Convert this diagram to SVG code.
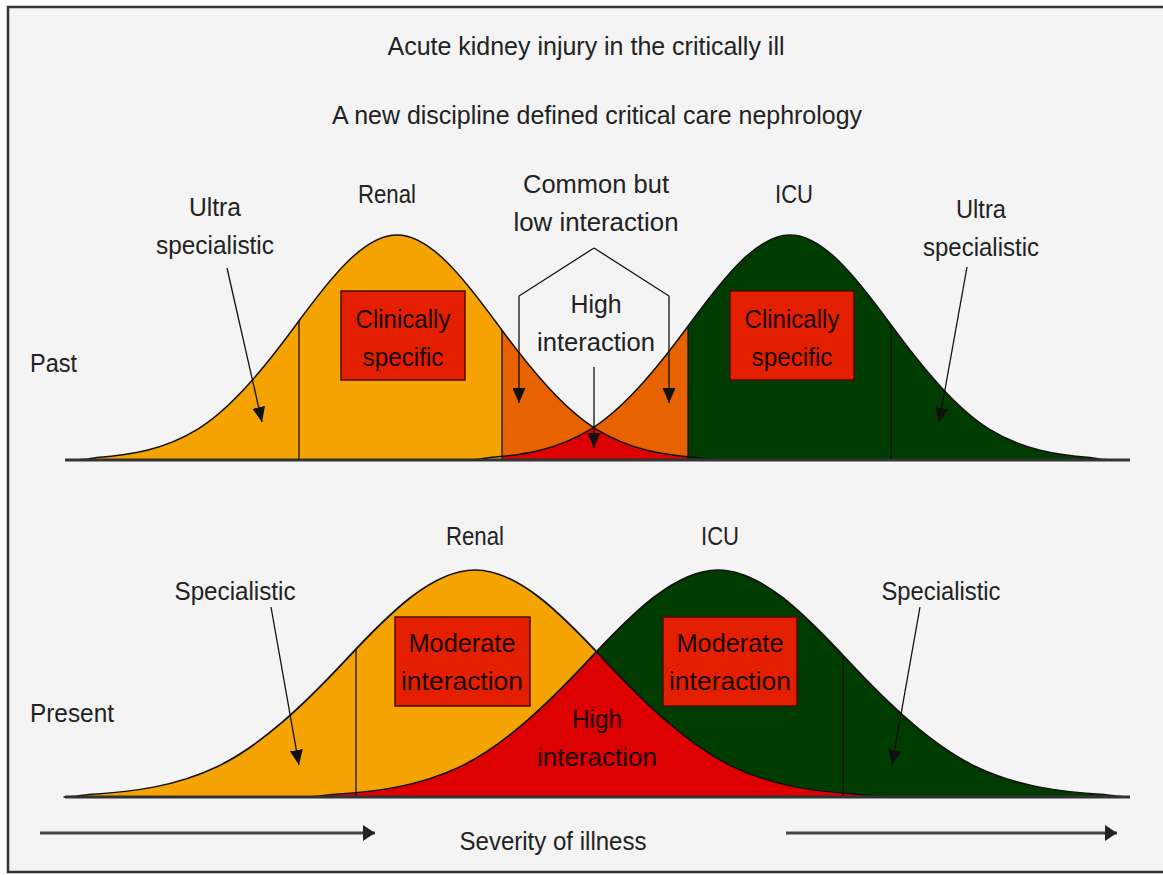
<svg xmlns="http://www.w3.org/2000/svg" width="1163" height="875" viewBox="0 0 1163 875">
<style>
text{font-family:"Liberation Sans",Arial,sans-serif;font-size:26px;fill:#222;text-anchor:middle}
.bx text{fill:#1a0400}
.curve{fill:none;stroke:#111;stroke-width:1.5}
.vl{stroke:#111;stroke-width:1.3}
.base{stroke:#333;stroke-width:3}
.box{fill:#e31f00;stroke:#4a0c00;stroke-width:1.5}
.con{fill:none;stroke:#111;stroke-width:1.3}
.sev{fill:none;stroke:#444;stroke-width:3}
</style>
<defs>
<path id="g" d="M -320,0 C -313,0 -307,-1.6 -300,-2.5 C -266.7,-5 -233.3,-10.1 -200,-30.4 C -166.7,-50.7 -133.3,-91 -100,-136.5 C -66.7,-182 -33.3,-225 0,-225 C 33.3,-225 66.7,-182 100,-136.5 C 133.3,-91 166.7,-50.7 200,-30.4 C 233.3,-10.1 266.7,-5 300,-2.5 C 307,-1.6 313,0 320,0 Z"/>
<clipPath id="cpRP"><use href="#g" transform="translate(397,460)"/></clipPath>
<clipPath id="cpLeftP"><rect x="0" y="0" width="502" height="875"/></clipPath>
<clipPath id="cpMidP"><rect x="502" y="0" width="186" height="875"/></clipPath>
<clipPath id="cpRightP"><rect x="688" y="0" width="500" height="875"/></clipPath>
<clipPath id="cpRN"><use href="#g" transform="translate(475,797) scale(1.286,1.009)"/></clipPath>
<marker id="ah" viewBox="0 0 15 13" refX="15" refY="6.5" markerWidth="15" markerHeight="13" markerUnits="userSpaceOnUse" orient="auto"><path d="M0,0 L15,6.5 L0,13 z" fill="#111"/></marker>
<marker id="ah2" viewBox="0 0 12 16" refX="12" refY="8" markerWidth="12" markerHeight="16" markerUnits="userSpaceOnUse" orient="auto"><path d="M0,0 L12,8 L0,16 z" fill="#222"/></marker>
</defs>
<rect x="0" y="0" width="1163" height="875" fill="#fff"/>
<rect x="8" y="7" width="1170" height="865" fill="#f4f4f4" stroke="#333" stroke-width="2.5"/>

<g id="title">
<text x="586" y="55" textLength="397" lengthAdjust="spacingAndGlyphs">Acute kidney injury in the critically ill</text>
<text x="597" y="124" textLength="530" lengthAdjust="spacingAndGlyphs">A new discipline defined critical care nephrology</text>
</g>

<!-- PAST -->
<g id="past-fills">
<g clip-path="url(#cpLeftP)"><use href="#g" transform="translate(397,460)" fill="#f5a300"/></g>
<g clip-path="url(#cpRightP)"><use href="#g" transform="translate(790,460)" fill="#003c00"/></g>
<g clip-path="url(#cpMidP)"><use href="#g" transform="translate(397,460)" fill="#e86200"/><use href="#g" transform="translate(790,460)" fill="#e86200"/></g>
<g clip-path="url(#cpMidP)"><g clip-path="url(#cpRP)"><use href="#g" transform="translate(790,460)" fill="#dc0000"/></g></g>
</g>
<g id="past-lines">
<line class="vl" x1="299" y1="460" x2="299" y2="321"/>
<line class="vl" x1="502" y1="460" x2="502" y2="330"/>
<line class="vl" x1="688" y1="460" x2="688" y2="326"/>
<line class="vl" x1="891" y1="460" x2="891" y2="325"/>
<use class="curve" href="#g" transform="translate(397,460)"/>
<use class="curve" href="#g" transform="translate(790,460)"/>
<line class="base" x1="65" y1="460" x2="1130" y2="460"/>
</g>

<g id="past-label"><text x="30" y="372" text-anchor="start" style="text-anchor:start" textLength="47" lengthAdjust="spacingAndGlyphs">Past</text></g>
<g id="past-renal-label"><text x="387" y="203" textLength="58" lengthAdjust="spacingAndGlyphs">Renal</text></g>
<g id="past-icu-label"><text x="794" y="203" textLength="38" lengthAdjust="spacingAndGlyphs">ICU</text></g>
<g id="past-ultra-left">
<text x="215" y="216" textLength="52" lengthAdjust="spacingAndGlyphs">Ultra</text>
<text x="215" y="254" textLength="118" lengthAdjust="spacingAndGlyphs">specialistic</text>
</g>
<g id="past-ultra-right">
<text x="981" y="218" textLength="50" lengthAdjust="spacingAndGlyphs">Ultra</text>
<text x="981" y="256" textLength="116" lengthAdjust="spacingAndGlyphs">specialistic</text>
</g>
<g id="past-common">
<text x="596" y="193" textLength="146" lengthAdjust="spacingAndGlyphs">Common but</text>
<text x="596" y="231" textLength="165" lengthAdjust="spacingAndGlyphs">low interaction</text>
</g>
<g id="past-high">
<text x="596" y="313" textLength="51" lengthAdjust="spacingAndGlyphs">High</text>
<text x="596" y="351" textLength="118" lengthAdjust="spacingAndGlyphs">interaction</text>
</g>
<g id="past-renal-box" class="bx">
<rect class="box" x="341" y="291" width="124" height="89"/>
<text x="403" y="328" textLength="95" lengthAdjust="spacingAndGlyphs">Clinically</text>
<text x="403" y="366" textLength="81" lengthAdjust="spacingAndGlyphs">specific</text>
</g>
<g id="past-icu-box" class="bx">
<rect class="box" x="730" y="291" width="124" height="89"/>
<text x="792" y="328" textLength="95" lengthAdjust="spacingAndGlyphs">Clinically</text>
<text x="792" y="366" textLength="81" lengthAdjust="spacingAndGlyphs">specific</text>
</g>

<!-- PRESENT -->
<g id="present-fills">
<use href="#g" transform="translate(475,797) scale(1.286,1.009)" fill="#f5a300"/>
<use href="#g" transform="translate(718,797) scale(1.286,1.009)" fill="#003c00"/>
<g clip-path="url(#cpRN)"><use href="#g" transform="translate(718,797) scale(1.286,1.009)" fill="#dc0000"/></g>
</g>
<g id="present-lines">
<line class="vl" x1="356" y1="797" x2="356" y2="649"/>
<line class="vl" x1="843" y1="797" x2="843" y2="655"/>
<use class="curve" href="#g" transform="translate(475,797) scale(1.286,1.009)" vector-effect="non-scaling-stroke"/>
<use class="curve" href="#g" transform="translate(718,797) scale(1.286,1.009)" vector-effect="non-scaling-stroke"/>
<line class="base" x1="65" y1="797" x2="1130" y2="797"/>
</g>

<g id="present-label"><text x="30" y="722" style="text-anchor:start" textLength="84" lengthAdjust="spacingAndGlyphs">Present</text></g>
<g id="present-renal-label"><text x="475" y="545" textLength="58" lengthAdjust="spacingAndGlyphs">Renal</text></g>
<g id="present-icu-label"><text x="720" y="545" textLength="38" lengthAdjust="spacingAndGlyphs">ICU</text></g>
<g id="present-spec-left"><text x="235" y="600" textLength="121" lengthAdjust="spacingAndGlyphs">Specialistic</text></g>
<g id="present-spec-right"><text x="941" y="600" textLength="119" lengthAdjust="spacingAndGlyphs">Specialistic</text></g>
<g id="present-renal-box" class="bx">
<rect class="box" x="395" y="617" width="135" height="89"/>
<text x="462" y="652" textLength="107" lengthAdjust="spacingAndGlyphs">Moderate</text>
<text x="462" y="690" textLength="122" lengthAdjust="spacingAndGlyphs">interaction</text>
</g>
<g id="present-icu-box" class="bx">
<rect class="box" x="663" y="617" width="134" height="89"/>
<text x="730" y="652" textLength="107" lengthAdjust="spacingAndGlyphs">Moderate</text>
<text x="730" y="690" textLength="122" lengthAdjust="spacingAndGlyphs">interaction</text>
</g>
<g id="present-high" class="bx">
<text x="597" y="728" textLength="50" lengthAdjust="spacingAndGlyphs">High</text>
<text x="597" y="766" textLength="120" lengthAdjust="spacingAndGlyphs">interaction</text>
</g>
<g id="severity"><text x="553" y="850" textLength="187" lengthAdjust="spacingAndGlyphs">Severity of illness</text></g>

<g id="connectors">
<path class="con" d="M227,268 L262,422" marker-end="url(#ah)"/>
<path class="con" d="M967,267 L939,423" marker-end="url(#ah)"/>
<path class="con" d="M594,248 L519,296 L519,403" marker-end="url(#ah)"/>
<path class="con" d="M594,248 L669,296 L669,403" marker-end="url(#ah)"/>
<path class="con" d="M594,367 L594,448" marker-end="url(#ah)"/>
<path class="con" d="M271,607 L299,765" marker-end="url(#ah)"/>
<path class="con" d="M920,607 L892,765" marker-end="url(#ah)"/>
<path class="sev" d="M40,833 L375,833" marker-end="url(#ah2)"/>
<path class="sev" d="M786,833 L1117,833" marker-end="url(#ah2)"/>
</g>
</svg>
